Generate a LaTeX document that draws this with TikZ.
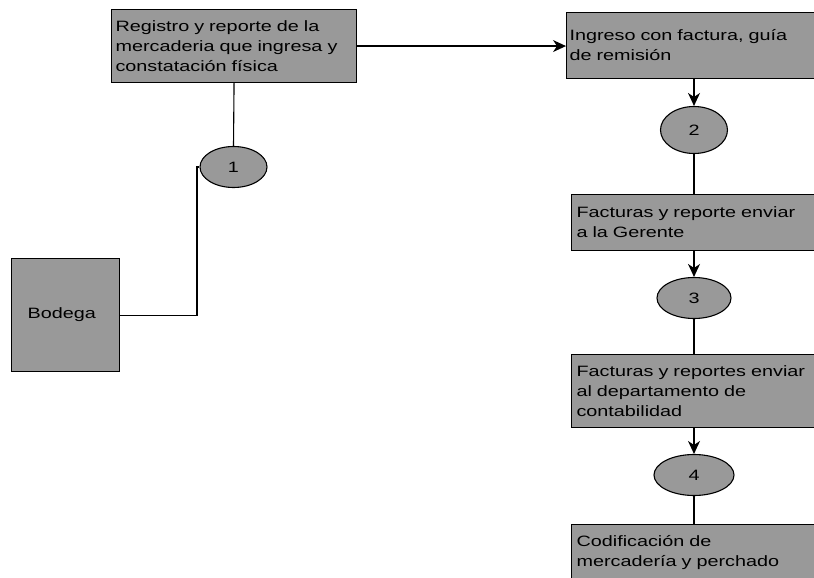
\documentclass[tikz,border=0pt]{standalone}
\usepackage{fontspec}
\setmainfont[FakeStretch=1.32]{Liberation Sans}
\usetikzlibrary{arrows.meta, positioning, shapes.geometric}

\definecolor{boxgray}{RGB}{153,153,153}

\begin{document}
\begin{tikzpicture}[x=1pt,y=-1pt,>={Stealth[length=13pt,width=12pt,inset=4pt]},
                    line width=1.1pt,font=\fontsize{15}{20}\selectfont]
  \tikzstyle{proc}=[draw=black,fill=boxgray,rectangle,anchor=north west,
                    inner ysep=0pt,align=left]
  \tikzstyle{num}=[draw=black,fill=boxgray,ellipse,inner sep=0pt,
                   minimum height=41pt]

  \useasboundingbox (0,0) rectangle (814,578);

  \node[proc,inner xsep=4pt,minimum width=245pt,minimum height=73pt,text width=237pt]
        (R) at (111,9) {Registro y reporte de la\\mercaderia que ingresa y\\constatación física};
  \node[proc,inner xsep=3pt,minimum width=270pt,minimum height=66pt,text width=264pt]
        (I) at (566,12) {Ingreso con factura, guía\\de remisión};
  \node[proc,inner xsep=5pt,minimum width=260pt,minimum height=56pt,text width=250pt]
        (F) at (571,194) {Facturas y reporte enviar\\a la Gerente};
  \node[proc,inner xsep=5pt,minimum width=260pt,minimum height=73pt,text width=250pt]
        (C) at (571,354) {Facturas y reportes enviar\\al departamento de\\contabilidad};
  \node[proc,inner xsep=5pt,minimum width=260pt,minimum height=73pt,text width=250pt]
        (E) at (571,524) {Codificación de\\mercadería y perchado\\ \mbox{}};
  \node[proc,inner xsep=16pt,minimum width=108pt,minimum height=113pt,text width=76pt]
        (B) at (11,258) {Bodega};

  \node[num,minimum width=67pt] (n1) at (233.5,167) {1};
  \node[num,minimum width=67pt,minimum height=47pt] (n2) at (694,130) {2};
  \node[num,minimum width=74pt] (n3) at (694,298) {3};
  \node[num,minimum width=80pt] (n4) at (694,475) {4};

  \coordinate (k1) at (197,167);

  \draw (R.south) -- (n1.north);
  \draw (B.east) -| (k1) -- (n1.west);
  \draw[->] (R.east) -- (R.east -| I.west);
  \draw[->] (I.south -| n2) -- (n2.north);
  \draw (n2.south) -- (n2 |- F.north);
  \draw[->] (F.south -| n3) -- (n3.north);
  \draw (n3.south) -- (n3 |- C.north);
  \draw[->] (C.south -| n4) -- (n4.north);
  \draw (n4.south) -- (n4 |- E.north);
\end{tikzpicture}
\end{document}
